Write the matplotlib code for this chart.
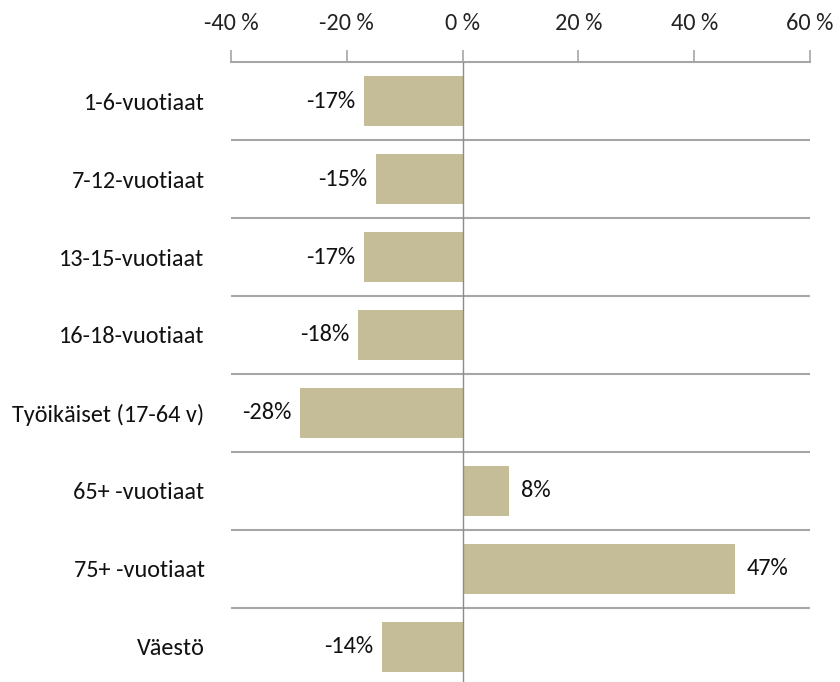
import matplotlib.pyplot as plt
import numpy as np

# -------------------------------------------------
# DATA
# -------------------------------------------------
categories = [
    "1-6-vuotiaat",
    "7-12-vuotiaat",
    "13-15-vuotiaat",
    "16-18-vuotiaat",
    "Työikäiset (17-64 v)",
    "65+ -vuotiaat",
    "75+ -vuotiaat",
    "Väestö",
]
values = [-17, -15, -17, -18, -28, 8, 47, -14]
xticks = [-40, -20, 0, 20, 40, 60]

BAR = "#C4BD97"
GRID = "#A6A6A6"

plt.rcParams["font.family"] = ["Carlito", "Liberation Sans Narrow", "DejaVu Sans"]
plt.rcParams["font.stretch"] = "condensed"

fig = plt.figure(figsize=(8.4, 6.82), dpi=100)
ax = fig.add_axes([231 / 840, 0, (810 - 231) / 840, 620 / 682])

y = np.arange(len(categories))
ax.barh(y, values, height=0.63, color=BAR, zorder=2)

ax.set_xlim(-40, 60)
ax.set_ylim(-0.5 + 620 / 78, -0.5)

# separators between categories
for i in range(len(categories) - 1):
    ax.axhline(i + 0.5, color=GRID, lw=1.5, zorder=1)
ax.axvline(0, color="#8C8C8C", lw=1.0, zorder=3)

# x axis on top
ax.xaxis.tick_top()
ax.set_xticks(xticks)
ax.set_xticklabels([f"{t} %" for t in xticks], fontsize=17.5, color="#222222")
ax.tick_params(axis="x", direction="out", length=9, width=1.2, color=GRID, pad=11)

ax.set_yticks(y)
ax.set_yticklabels(categories, fontsize=17.5, color="#111111")
ax.tick_params(axis="y", length=0, pad=19)

for s in ["bottom", "left", "right"]:
    ax.spines[s].set_visible(False)
ax.spines["top"].set_color(GRID)
ax.spines["top"].set_linewidth(1.5)

# value labels
for yi, v in zip(y, values):
    if v < 0:
        ax.text(v - 1.5, yi, f"{v}%", ha="right", va="center", fontsize=17.5, color="#111111")
    else:
        ax.text(v + 2.0, yi, f"{v}%", ha="left", va="center", fontsize=17.5, color="#111111")

fig.savefig("out.png", dpi=100)
